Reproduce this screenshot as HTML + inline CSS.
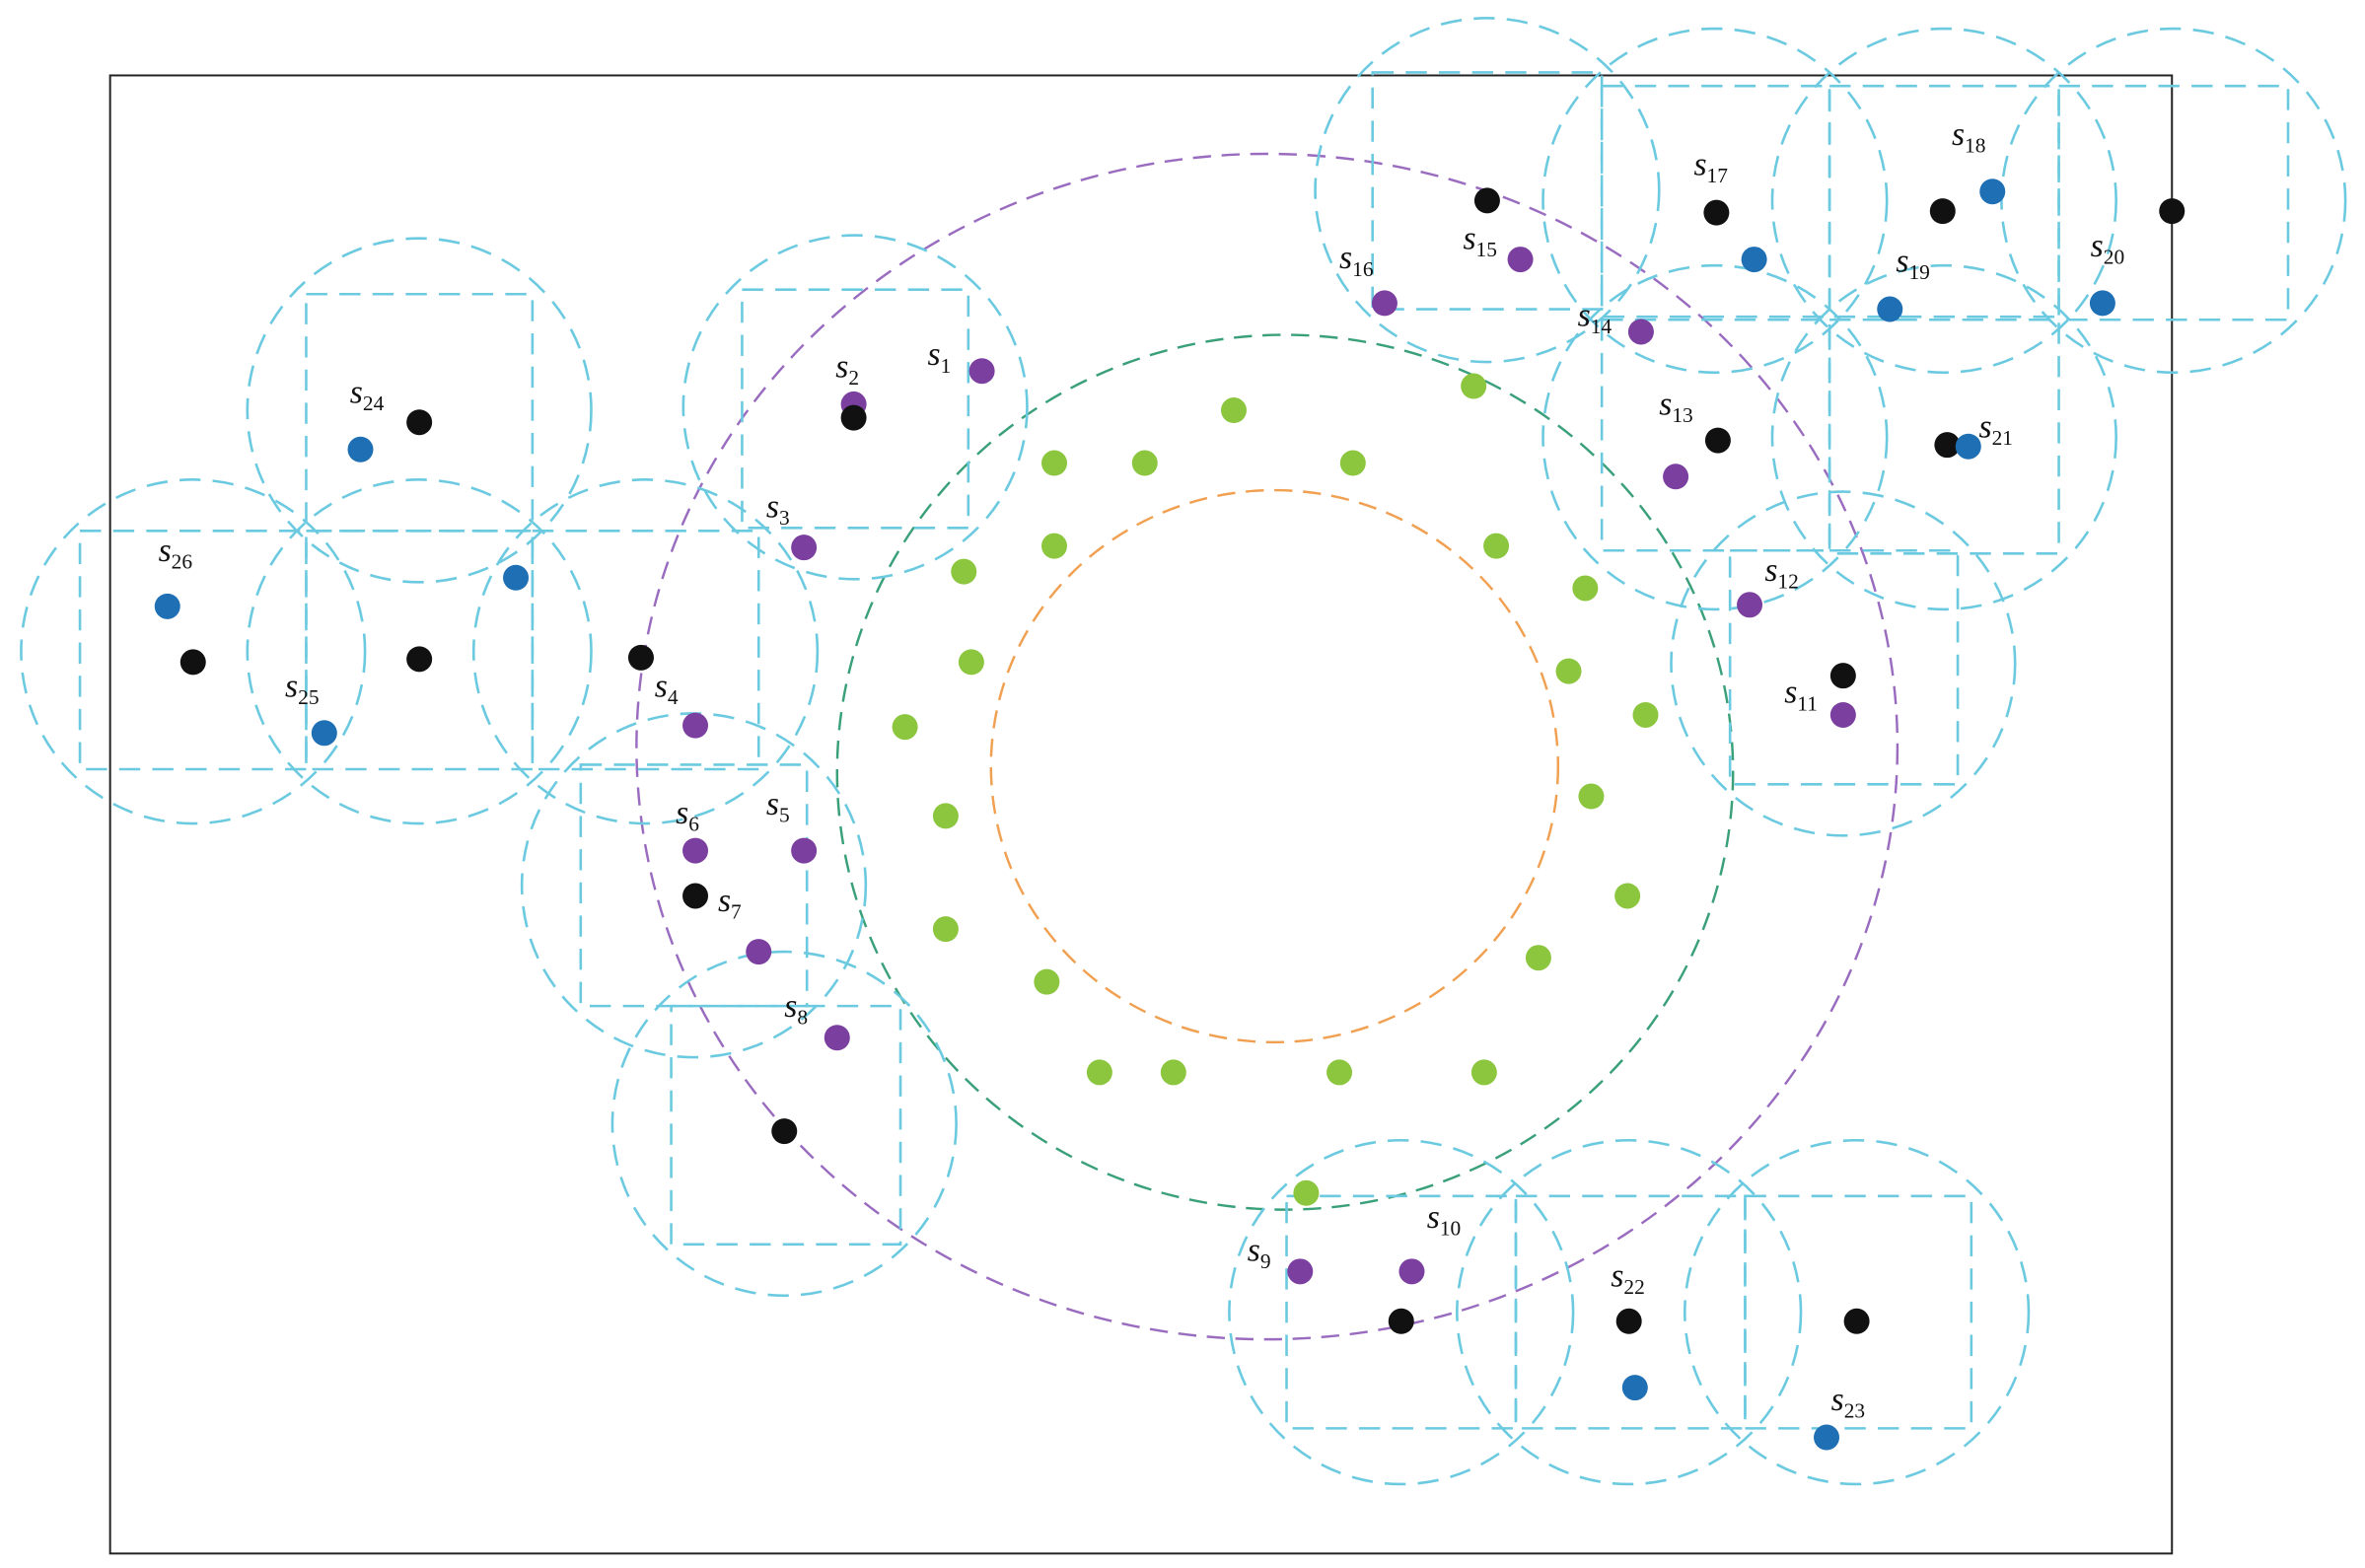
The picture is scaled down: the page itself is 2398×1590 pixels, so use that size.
<!DOCTYPE html>
<html><head><meta charset="utf-8"><style>
html,body{margin:0;padding:0;background:#fff;}
svg{display:block}
text{font-family:"Liberation Serif",serif;font-style:italic;font-size:22px;fill:#111}
tspan.sub{font-size:14px;font-style:normal}
</style></head><body>
<svg width="2398" height="1590" viewBox="0 0 1568 1039.6" preserveAspectRatio="none" xmlns="http://www.w3.org/2000/svg">
<rect x="73" y="50" width="1367" height="980" fill="none" stroke="#222" stroke-width="1.3"/>
<g fill="none" stroke-dasharray="12,7" stroke-width="1.6">
<ellipse cx="840" cy="495" rx="418" ry="393" stroke="#9a6cc0"/>
<ellipse cx="852" cy="512" rx="297" ry="290" stroke="#3aa07a"/>
<ellipse cx="845" cy="508" rx="188" ry="183" stroke="#f0a050"/>
</g>
<g fill="none" stroke="#6ccae0" stroke-dasharray="14,8" stroke-width="1.7">
<rect x="203" y="195" width="150" height="157"/><circle cx="278" cy="272" r="114"/>
<rect x="53" y="352" width="150" height="158"/><circle cx="128" cy="432" r="114"/>
<rect x="203" y="352" width="150" height="158"/><circle cx="278" cy="432" r="114"/>
<rect x="353" y="352" width="150" height="158"/><circle cx="428" cy="432" r="114"/>
<rect x="492" y="192" width="150" height="158"/><circle cx="567" cy="270" r="114"/>
<rect x="385" y="507" width="150" height="160"/><circle cx="460" cy="587" r="114"/>
<rect x="445" y="667" width="152" height="158"/><circle cx="520" cy="745" r="114"/>
<rect x="910" y="48" width="152" height="157"/><circle cx="986" cy="126" r="114"/>
<rect x="1062" y="57" width="151" height="153"/><circle cx="1137" cy="133" r="114"/>
<rect x="1213" y="57" width="152" height="153"/><circle cx="1289" cy="133" r="114"/>
<rect x="1365" y="57" width="152" height="155"/><circle cx="1441" cy="133" r="114"/>
<rect x="1062" y="212" width="151" height="153"/><circle cx="1137" cy="290" r="114"/>
<rect x="1213" y="212" width="152" height="155"/><circle cx="1289" cy="290" r="114"/>
<rect x="1147" y="365" width="151" height="155"/><circle cx="1222" cy="440" r="114"/>
<rect x="853" y="793" width="152" height="154"/><circle cx="929" cy="870" r="114"/>
<rect x="1005" y="793" width="152" height="154"/><circle cx="1080" cy="870" r="114"/>
<rect x="1157" y="793" width="150" height="154"/><circle cx="1231" cy="870" r="114"/>
</g>
<g fill="#8cc63f">
<circle cx="818" cy="272" r="8.5"/><circle cx="977" cy="256" r="8.5"/><circle cx="699" cy="307" r="8.5"/><circle cx="759" cy="307" r="8.5"/><circle cx="897" cy="307" r="8.5"/><circle cx="699" cy="362" r="8.5"/><circle cx="992" cy="362" r="8.5"/><circle cx="639" cy="379" r="8.5"/><circle cx="1051" cy="390" r="8.5"/><circle cx="644" cy="439" r="8.5"/><circle cx="1040" cy="445" r="8.5"/><circle cx="600" cy="482" r="8.5"/><circle cx="1091" cy="474" r="8.5"/><circle cx="627" cy="541" r="8.5"/><circle cx="1055" cy="528" r="8.5"/><circle cx="1079" cy="594" r="8.5"/><circle cx="627" cy="616" r="8.5"/><circle cx="1020" cy="635" r="8.5"/><circle cx="694" cy="651" r="8.5"/><circle cx="729" cy="711" r="8.5"/><circle cx="778" cy="711" r="8.5"/><circle cx="888" cy="711" r="8.5"/><circle cx="984" cy="711" r="8.5"/><circle cx="866" cy="791" r="8.5"/>
</g>
<g fill="#7b3fa0">
<circle cx="651" cy="246" r="8.5"/><circle cx="566" cy="268" r="8.5"/><circle cx="533" cy="363" r="8.5"/><circle cx="461" cy="481" r="8.5"/><circle cx="533" cy="564" r="8.5"/><circle cx="461" cy="564" r="8.5"/><circle cx="503" cy="631" r="8.5"/><circle cx="555" cy="688" r="8.5"/><circle cx="862" cy="843" r="8.5"/><circle cx="936" cy="843" r="8.5"/><circle cx="1222" cy="474" r="8.5"/><circle cx="1160" cy="401" r="8.5"/><circle cx="1111" cy="316" r="8.5"/><circle cx="1088" cy="220" r="8.5"/><circle cx="1008" cy="172" r="8.5"/><circle cx="918" cy="201" r="8.5"/>
</g>
<g fill="#111">
<circle cx="566" cy="277" r="8.5"/><circle cx="278" cy="280" r="8.5"/><circle cx="128" cy="439" r="8.5"/><circle cx="278" cy="437" r="8.5"/><circle cx="425" cy="436" r="8.5"/><circle cx="461" cy="594" r="8.5"/><circle cx="520" cy="750" r="8.5"/><circle cx="986" cy="133" r="8.5"/><circle cx="1138" cy="141" r="8.5"/><circle cx="1288" cy="140" r="8.5"/><circle cx="1440" cy="140" r="8.5"/><circle cx="1139" cy="292" r="8.5"/><circle cx="1291" cy="295" r="8.5"/><circle cx="1222" cy="448" r="8.5"/><circle cx="929" cy="876" r="8.5"/><circle cx="1080" cy="876" r="8.5"/><circle cx="1231" cy="876" r="8.5"/>
</g>
<g fill="#1f6fb4">
<circle cx="239" cy="298" r="8.5"/><circle cx="111" cy="402" r="8.5"/><circle cx="215" cy="486" r="8.5"/><circle cx="342" cy="383" r="8.5"/><circle cx="1163" cy="172" r="8.5"/><circle cx="1321" cy="127" r="8.5"/><circle cx="1253" cy="205" r="8.5"/><circle cx="1394" cy="201" r="8.5"/><circle cx="1305" cy="296" r="8.5"/><circle cx="1084" cy="920" r="8.5"/><circle cx="1211" cy="953" r="8.5"/>
</g>
<g>
<text x="615" y="242">s<tspan class="sub" dy="5">1</tspan></text>
<text x="554" y="250">s<tspan class="sub" dy="5">2</tspan></text>
<text x="508" y="343">s<tspan class="sub" dy="5">3</tspan></text>
<text x="434" y="462">s<tspan class="sub" dy="5">4</tspan></text>
<text x="508" y="540">s<tspan class="sub" dy="5">5</tspan></text>
<text x="448" y="546">s<tspan class="sub" dy="5">6</tspan></text>
<text x="476" y="604">s<tspan class="sub" dy="5">7</tspan></text>
<text x="520" y="674">s<tspan class="sub" dy="5">8</tspan></text>
<text x="827" y="836">s<tspan class="sub" dy="5">9</tspan></text>
<text x="946" y="814">s<tspan class="sub" dy="5">10</tspan></text>
<text x="1183" y="466">s<tspan class="sub" dy="5">11</tspan></text>
<text x="1170" y="385">s<tspan class="sub" dy="5">12</tspan></text>
<text x="1100" y="275">s<tspan class="sub" dy="5">13</tspan></text>
<text x="1046" y="216">s<tspan class="sub" dy="5">14</tspan></text>
<text x="970" y="165">s<tspan class="sub" dy="5">15</tspan></text>
<text x="888" y="178">s<tspan class="sub" dy="5">16</tspan></text>
<text x="1123" y="116">s<tspan class="sub" dy="5">17</tspan></text>
<text x="1294" y="96">s<tspan class="sub" dy="5">18</tspan></text>
<text x="1257" y="180">s<tspan class="sub" dy="5">19</tspan></text>
<text x="1386" y="170">s<tspan class="sub" dy="5">20</tspan></text>
<text x="1312" y="290">s<tspan class="sub" dy="5">21</tspan></text>
<text x="1068" y="853">s<tspan class="sub" dy="5">22</tspan></text>
<text x="1214" y="935">s<tspan class="sub" dy="5">23</tspan></text>
<text x="232" y="267">s<tspan class="sub" dy="5">24</tspan></text>
<text x="189" y="462">s<tspan class="sub" dy="5">25</tspan></text>
<text x="105" y="372">s<tspan class="sub" dy="5">26</tspan></text>
</g>
</svg>
</body></html>
